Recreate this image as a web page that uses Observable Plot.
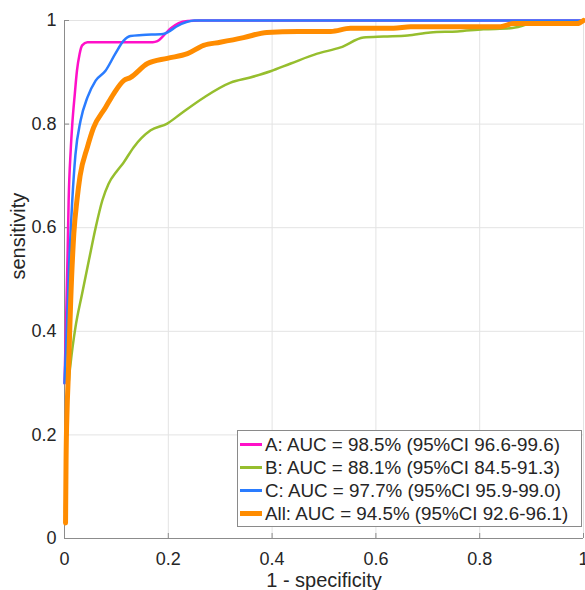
<!DOCTYPE html>
<html>
<head>
<meta charset="utf-8">
<script src="https://cdn.jsdelivr.net/npm/d3@7"></script>
<script src="https://cdn.jsdelivr.net/npm/@observablehq/plot@0.6"></script>
<style>
  html, body { margin: 0; padding: 0; background: white; }
  #wrap { position: relative; width: 585px; height: 590px; overflow: hidden; font-family: 'Liberation Sans', Arial, sans-serif; }
  #legend { position: absolute; left: 237px; top: 430px; width: 343px; height: 95px; border: 1px solid #8a8a8a; background: white; }
  .row { position: absolute; left: 2px; height: 23px; display: flex; align-items: center; font-size: 18.8px; color: #262626; white-space: nowrap; }
  .sw { width: 22px; margin-right: 3px; }
</style>
</head>
<body>
<div id="wrap"><div id="chart"></div><div id="legend"></div></div>
<script>
const xTicks = [0, 0.2, 0.4, 0.6, 0.8, 1];
const yTicks = [0, 0.2, 0.4, 0.6, 0.8, 1];

const seriesNames = ["A", "B", "C", "All"];
const seriesLabels = [
  "A: AUC = 98.5% (95%CI 96.6-99.6)",
  "B: AUC = 88.1% (95%CI 84.5-91.3)",
  "C: AUC = 97.7% (95%CI 95.9-99.0)",
  "All: AUC = 94.5% (95%CI 92.6-96.1)"
];
const seriesColors = ["#ff10c8", "#96be2e", "#2a7cff", "#ff8c00"];
const seriesWidths = [2.5, 2.5, 2.5, 5];

const aX = [0, 0.003, 0.006, 0.008, 0.012, 0.015, 0.02, 0.024, 0.029, 0.034, 0.044, 0.1, 0.17, 0.179, 0.19, 0.205, 0.22, 0.237, 0.26, 1];
const aY = [0.3, 0.42, 0.55, 0.653, 0.75, 0.8, 0.86, 0.903, 0.935, 0.952, 0.958, 0.958, 0.958, 0.96, 0.97, 0.985, 0.995, 0.999, 1, 1];

const bX = [0.001, 0.003, 0.008, 0.012, 0.021, 0.034, 0.047, 0.06, 0.073, 0.085, 0.1, 0.114, 0.133, 0.166, 0.198, 0.224, 0.268, 0.32, 0.358, 0.397, 0.436, 0.487, 0.532, 0.576, 0.615, 0.661, 0.705, 0.757, 0.807, 0.859, 0.904, 0.988, 1];
const bY = [0.05, 0.17, 0.3, 0.34, 0.407, 0.473, 0.537, 0.6, 0.653, 0.685, 0.708, 0.726, 0.755, 0.788, 0.801, 0.82, 0.851, 0.88, 0.89, 0.902, 0.917, 0.936, 0.948, 0.967, 0.969, 0.971, 0.977, 0.979, 0.983, 0.985, 0.994, 0.996, 1];

const cX = [0, 0.005, 0.009, 0.015, 0.021, 0.031, 0.044, 0.06, 0.079, 0.098, 0.114, 0.127, 0.15, 0.19, 0.2, 0.215, 0.235, 0.25, 0.26, 1];
const cY = [0.3, 0.42, 0.53, 0.653, 0.74, 0.807, 0.851, 0.884, 0.903, 0.936, 0.961, 0.97, 0.972, 0.974, 0.978, 0.988, 0.997, 1, 1, 1];

const allX = [0.002, 0.003, 0.005, 0.007, 0.01, 0.012, 0.018, 0.024, 0.03, 0.044, 0.056, 0.079, 0.095, 0.114, 0.127, 0.16, 0.198, 0.237, 0.268, 0.3, 0.345, 0.39, 0.45, 0.513, 0.551, 0.634, 0.667, 0.84, 0.865, 0.988, 1];
const allY = [0.03, 0.15, 0.25, 0.305, 0.4, 0.46, 0.589, 0.653, 0.7, 0.755, 0.793, 0.832, 0.859, 0.884, 0.89, 0.917, 0.927, 0.936, 0.952, 0.958, 0.967, 0.977, 0.979, 0.979, 0.985, 0.985, 0.988, 0.988, 0.994, 0.994, 1];

const xs = [aX, bX, cX, allX];
const ys = [aY, bY, cY, allY];

const lineMarks = seriesNames.map((name, i) =>
  Plot.line(d3.zip(xs[i], ys[i]), {
    x: d => d[0], y: d => d[1],
    stroke: seriesColors[i], strokeWidth: seriesWidths[i],
    curve: "monotone-x", strokeLinejoin: "round", strokeLinecap: "round"
  })
);

const chart = Plot.plot({
  width: 585,
  height: 590,
  marginLeft: 64,
  marginRight: 2,
  marginTop: 20,
  marginBottom: 52,
  style: { fontFamily: "'Liberation Sans', Arial, sans-serif", fontSize: "18px", color: "#262626", background: "white" },
  x: { domain: [0, 1] },
  y: { domain: [0, 1] },
  marks: [
    Plot.gridX(xTicks, { stroke: "#e3e3e3", strokeOpacity: 1 }),
    Plot.gridY(yTicks, { stroke: "#e3e3e3", strokeOpacity: 1 }),
    Plot.ruleX([0], { stroke: "#8c8c8c" }),
    Plot.ruleY([0], { stroke: "#8c8c8c" }),
    Plot.tickX(xTicks, { x: d => d, stroke: "#8c8c8c", insetTop: 513 }),
    Plot.tickY(yTicks, { y: d => d, stroke: "#8c8c8c", insetRight: 514 }),
    Plot.axisX(xTicks, { tickSize: 0, tickPadding: 14, tickFormat: d => String(d), label: null, fill: "#262626", fontSize: 18 }),
    Plot.axisY(yTicks, { tickSize: 0, tickPadding: 8, tickFormat: d => String(d), label: null, fill: "#262626", fontSize: 18 }),
    Plot.text(["1 - specificity"], { frameAnchor: "bottom", dy: 48.5, lineAnchor: "bottom", fontSize: 20, fill: "#262626" }),
    Plot.text(["sensitivity"], { frameAnchor: "left", dx: -39.5, rotate: -90, lineAnchor: "bottom", fontSize: 20, fill: "#262626" }),
    ...lineMarks
  ]
});
document.getElementById("chart").appendChild(chart);

const legend = document.getElementById("legend");
seriesNames.forEach((name, i) => {
  const row = document.createElement("div");
  row.className = "row";
  row.style.top = (2 + i * 23) + "px";
  const sw = document.createElement("span");
  sw.className = "sw";
  sw.style.height = seriesWidths[i] + "px";
  sw.style.background = seriesColors[i];
  const t = document.createElement("span");
  t.textContent = seriesLabels[i];
  row.appendChild(sw);
  row.appendChild(t);
  legend.appendChild(row);
});
</script>
</body>
</html>
